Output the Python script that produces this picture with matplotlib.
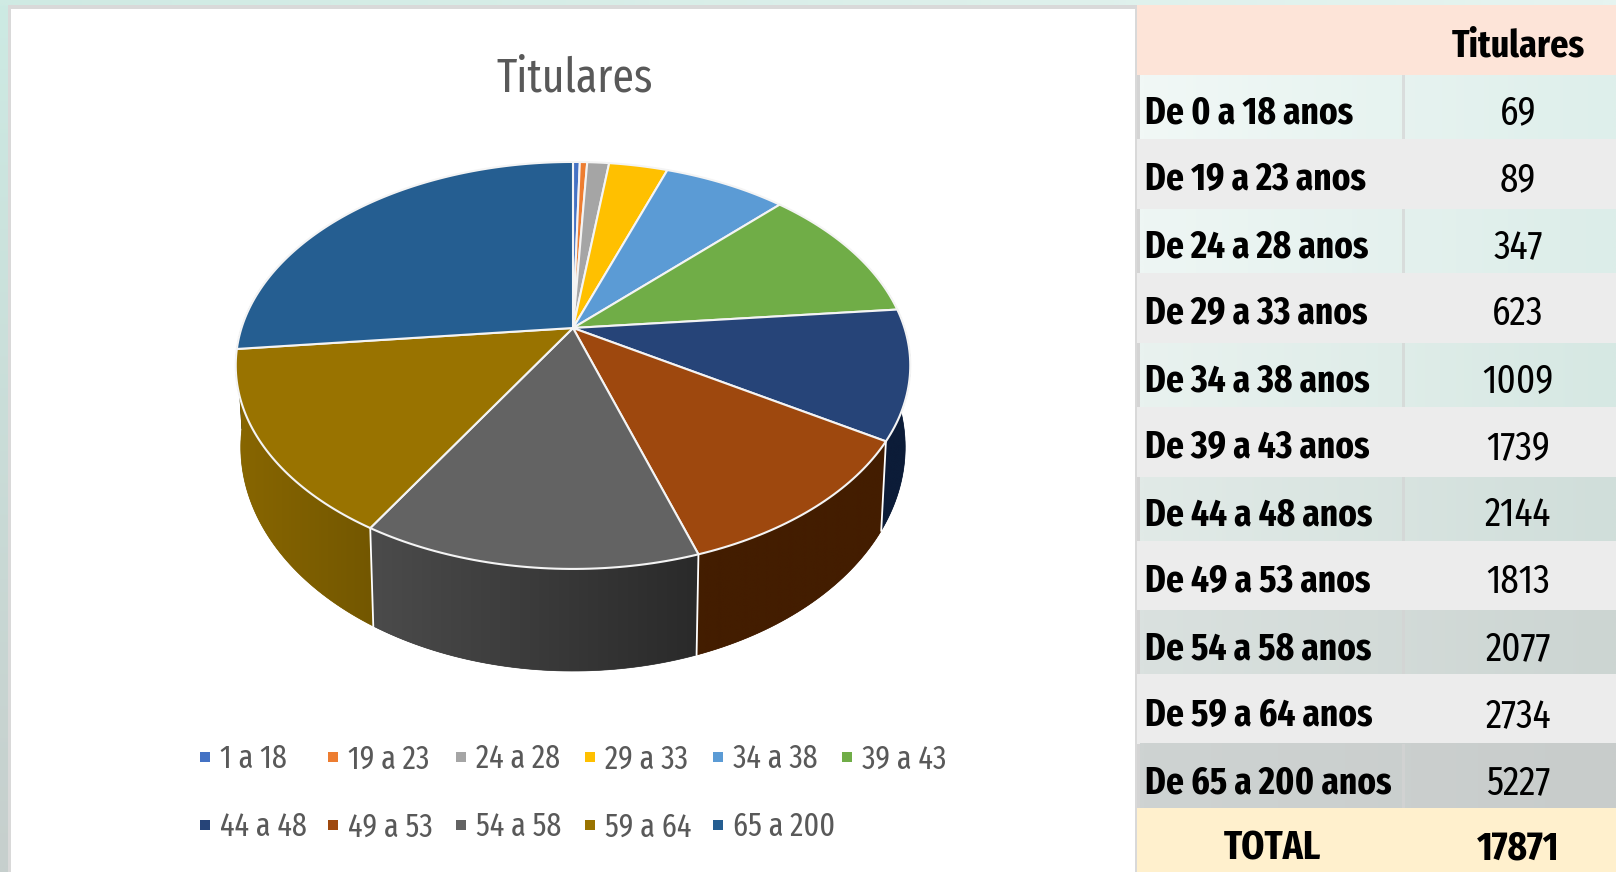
import numpy as np
import matplotlib
matplotlib.use('Agg')
import matplotlib.pyplot as plt
from matplotlib.colors import to_rgb
from matplotlib.patches import Polygon, Rectangle

# table values
row_labels = ['De 0 a 18 anos', 'De 19 a 23 anos', 'De 24 a 28 anos', 'De 29 a 33 anos',
              'De 34 a 38 anos', 'De 39 a 43 anos', 'De 44 a 48 anos', 'De 49 a 53 anos',
              'De 54 a 58 anos', 'De 59 a 64 anos', 'De 65 a 200 anos']
row_values = [69, 89, 347, 623, 1009, 1739, 2144, 1813, 2077, 2734, 5227]
total_value = 17871

# slice sizes as they look in the pie (percent), they differ a bit from the table
pie_labels = ['1 a 18', '19 a 23', '24 a 28', '29 a 33', '34 a 38', '39 a 43',
              '44 a 48', '49 a 53', '54 a 58', '59 a 64', '65 a 200']
pie_share = [0.39, 0.42, 1.25, 3.36, 7.03, 11.03, 10.25, 11.22, 13.67, 14.72, 26.67]

face_colors = ['#4472c4', '#ed7d31', '#a5a5a5', '#ffc000', '#5b9bd5', '#70ad47',
               '#264478', '#9e480e', '#636363', '#997300', '#255e91']
wall_start = ['#223962', '#763e18', '#525252', '#806000', '#2d4d6a', '#385623',
              '#0c1c38', '#431d00', '#2a2a2a', '#735700', '#12304a']
wall_end = ['#223962', '#763e18', '#525252', '#806000', '#2d4d6a', '#385623',
            '#0c1c38', '#431d00', '#4b4b4b', '#886600', '#12304a']

# left / right colours of the tinted table rows
tint_left = ['#f1f8f6', '#eef6f4', '#e9f2ef', '#e1eae7', '#dae1df', '#ced3d2']
tint_right = ['#deefeb', '#dcede9', '#d6e8e3', '#d0deda', '#ccd5d2', '#c8cccb']
row_edges = [75, 139, 209, 273, 343, 407, 477, 541, 610, 674, 744, 808, 872]

narrow = ['Fira Sans Extra Condensed', 'Lato']
TEXT_GREY = '#595959'

fig = plt.figure(figsize=(16.16, 8.72), dpi=100)
ax = fig.add_axes([0, 0, 1, 1])
ax.set_xlim(0, 1616)
ax.set_ylim(872, 0)
ax.axis('off')


def hgrad(x0, x1, y0, y1, c0, c1, vertical=False, z=1):
    t = np.linspace(0, 1, 64)[:, None]
    arr = (1 - t) * np.array(to_rgb(c0)) + t * np.array(to_rgb(c1))
    arr = arr[:, None, :] if vertical else arr[None, :, :]
    return ax.imshow(arr, extent=(x0, x1, y1, y0), aspect='auto', zorder=z, interpolation='bilinear')


# page background and chart panel
hgrad(0, 8, 0, 872, '#cdeae3', '#c6cfcd', vertical=True)
hgrad(0, 1616, 0, 5, '#cfeae3', '#e6f4f0')
ax.add_patch(Rectangle((8, 5), 1129, 867, fc='#d9d9d9', ec='none', zorder=2))
ax.add_patch(Rectangle((11, 9), 1124, 863, fc='white', ec='none', zorder=3))

# table
ax.add_patch(Rectangle((1137, 5), 479, 70, fc='#fde4d8', ec='none', zorder=2))
tint = 0
for i in range(len(row_labels)):
    y0, y1 = row_edges[i], row_edges[i + 1]
    if i % 2 == 0:
        hgrad(1140, 1616, y0, y1, tint_left[tint], tint_right[tint], z=2)
        ax.add_patch(Rectangle((1137, y0), 3, y1 - y0, fc='#d4d4d4', ec='none', zorder=3))
        ax.add_patch(Rectangle((1402, y0), 2.5, y1 - y0, fc='#d4d4d4', ec='none', alpha=0.7, zorder=3))
        tint += 1
    else:
        ax.add_patch(Rectangle((1137, y0), 479, y1 - y0, fc='#ececec', ec='none', zorder=2))
    yt = 113 + 67 * i
    ax.text(1145, yt, row_labels[i], family=narrow, weight='bold', fontsize=27.5,
            color='black', va='center', ha='left', zorder=5)
    ax.text(1518, yt, str(row_values[i]), family=narrow, fontsize=29,
            color='black', va='center', ha='center', zorder=5)
ax.add_patch(Rectangle((1137, 808), 479, 64, fc='#fff0cd', ec='none', zorder=2))
ax.text(1518, 46, 'Titulares', family=narrow, weight='bold', fontsize=28, va='center', ha='center', zorder=5)
ax.text(1272, 849, 'TOTAL', family=narrow, weight='bold', fontsize=29, va='center', ha='center', zorder=5)
ax.text(1518, 849, str(total_value), family=narrow, weight='bold', fontsize=29, va='center', ha='center', zorder=5)

# perspective disc: theta runs clockwise from the top
cx, cy = 573, 328
B, A, k = 331.5, 196.6, 0.184


def top_rim(theta):
    u, v = np.sin(theta), -np.cos(theta)
    w = 1 - k * v
    return cx + B * u / w, cy + A * v / w


def low_rim(theta):
    x, y = top_rim(theta)
    return cx + 0.985 * (x - cx), cy + 1.1 * (y - cy) + 78


edges = np.radians(np.concatenate([[0], np.cumsum(pie_share)]) / np.sum(pie_share) * 360)

# walls first, from the sides towards the front
order = sorted(range(len(pie_share)), key=lambda j: -abs(np.pi - (edges[j] + edges[j + 1]) / 2))
for j in order:
    a0, a1 = max(edges[j], np.radians(75)), min(edges[j + 1], np.radians(285))
    if a1 <= a0:
        continue
    ts = np.linspace(a0, a1, max(3, int(np.degrees(a1 - a0))))
    xt, yt = top_rim(ts)
    xl, yl = low_rim(ts)
    outline = list(zip(xt, yt)) + list(zip(xl[::-1], yl[::-1]))
    mid = (np.array(to_rgb(wall_start[j])) + np.array(to_rgb(wall_end[j]))) / 2
    wall = Polygon(outline, closed=True, fc=mid, ec=mid, lw=0.5, zorder=6)
    ax.add_patch(wall)
    # theta grows to the left on the front of the pie
    x_left, x_right = min(xt.min(), xl.min()), max(xt.max(), xl.max())
    im = hgrad(x_left, x_right, min(yt.min(), yl.min()), max(yt.max(), yl.max()),
               wall_end[j], wall_start[j], z=6)
    im.set_clip_path(wall)

for j in range(len(pie_share)):
    if np.radians(100) < edges[j + 1] < np.radians(260):
        xa, ya = top_rim(edges[j + 1])
        xd, yd = low_rim(edges[j + 1])
        ax.plot([xa, xd], [ya, yd], color='white', lw=1.3, zorder=7)

# top face
for j in range(len(pie_share)):
    ts = np.linspace(edges[j], edges[j + 1], max(3, int(np.degrees(edges[j + 1] - edges[j])) + 2))
    xs, ys = top_rim(ts)
    pts = [(cx, cy)] + list(zip(xs, ys))
    ax.add_patch(Polygon(pts, closed=True, fc=face_colors[j], ec='#f4f4f4', lw=1.5,
                         joinstyle='round', zorder=8))

ax.text(575, 79, 'Titulares', family=narrow, fontsize=34, color=TEXT_GREY, va='center', ha='center', zorder=9)

# legend, 6 columns on 2 rows
col_box = [205, 333, 461, 590, 718, 847]
for j, lab in enumerate(pie_labels):
    xb = col_box[j % 6]
    yb = 757 if j < 6 else 825
    ax.add_patch(Rectangle((xb - 5, yb - 5), 10, 10, fc=face_colors[j], ec='none', zorder=9))
    ax.text(xb + 15, yb + 2, lab, family=narrow, fontsize=23.5, color=TEXT_GREY, va='center', ha='left', zorder=9)

ax.set_xlim(0, 1616)
ax.set_ylim(872, 0)
fig.savefig('out.png', dpi=100)
